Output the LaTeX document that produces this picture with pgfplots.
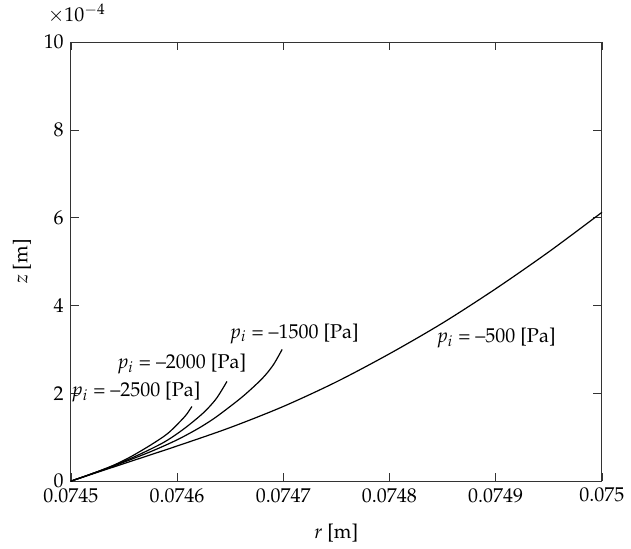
\documentclass[border=0pt]{standalone}
\usepackage[T1]{fontenc}
\usepackage{mathpazo}
\usepackage{pgfplots}
\pgfplotsset{compat=1.18}
\usepackage{pgfplotstable}

% Meniscus profiles z(r) for several inner pressures
\pgfplotstableread{
r        z
0.074500 0
0.074520 0.17e-4
0.074540 0.36e-4
0.074556 0.55e-4
0.074575 0.82e-4
0.074591 1.08e-4
0.074603 1.36e-4
0.074609 1.52e-4
0.074614 1.70e-4
}\pTwentyFive
\pgfplotstableread{
r        z
0.074500 0
0.074520 0.17e-4
0.074540 0.35e-4
0.074563 0.59e-4
0.074588 0.89e-4
0.074607 1.20e-4
0.074625 1.56e-4
0.074637 1.88e-4
0.074647 2.27e-4
}\pTwenty
\pgfplotstableread{
r        z
0.074500 0
0.074520 0.17e-4
0.074540 0.34e-4
0.074575 0.67e-4
0.074600 0.94e-4
0.074620 1.20e-4
0.074635 1.43e-4
0.074650 1.70e-4
0.074662 1.93e-4
0.074674 2.19e-4
0.074683 2.41e-4
0.074691 2.66e-4
0.074699 3.00e-4
}\pFifteen
\pgfplotstableread{
r        z
0.074500 0
0.074550 0.40e-4
0.074600 0.80e-4
0.074650 1.22e-4
0.074700 1.70e-4
0.074750 2.26e-4
0.074800 2.90e-4
0.074850 3.60e-4
0.074900 4.38e-4
0.074950 5.22e-4
0.075000 6.12e-4
}\pFive

\newcommand{\plab}[1]{\textit{p}$_i$ = \textendash#1 [Pa]}

\begin{document}
\begin{tikzpicture}
\begin{axis}[
  width=266pt, height=220pt, scale only axis,
  xmin=0.0745, xmax=0.075, ymin=0, ymax=10e-4,
  xtick={0.0745,0.0746,0.0747,0.0748,0.0749,0.075},
  ytick={0,2e-4,4e-4,6e-4,8e-4,10e-4},
  scaled x ticks=false,
  xticklabel style={/pgf/number format/.cd, fixed, precision=4},
  scaled y ticks=base 10:4,
  ytick scale label code/.code={$\times 10^{#1}$},
  every y tick scale label/.style={at={(rel axis cs:0,1)}, anchor=south, xshift=3pt, yshift=7pt, inner xsep=0pt, inner ysep=2pt},
  axis line style={black!80},
  tick style={black!80},
  xlabel={\textit{r} [m]}, ylabel={\textit{z} [m]},
  xlabel style={yshift=-4pt},
  ylabel style={inner ysep=6.5pt, yshift=-3.7pt},
  clip=false,
]
\addplot[black, line width=0.6pt, smooth, no markers] table[x=r,y=z] {\pTwentyFive};
\addplot[black, line width=0.6pt, smooth, no markers] table[x=r,y=z] {\pTwenty};
\addplot[black, line width=0.6pt, smooth, no markers] table[x=r,y=z] {\pFifteen};
\addplot[black, line width=0.6pt, smooth, no markers] table[x=r,y=z] {\pFive};
\node at (axis cs:0.074562,2.02e-4) {\plab{2500}};
\node at (axis cs:0.074605,2.66e-4) {\plab{2000}};
\node at (axis cs:0.074711,3.36e-4) {\plab{1500}};
\node at (axis cs:0.074901,3.25e-4) {\plab{500}};
\end{axis}
\end{tikzpicture}
\end{document}
